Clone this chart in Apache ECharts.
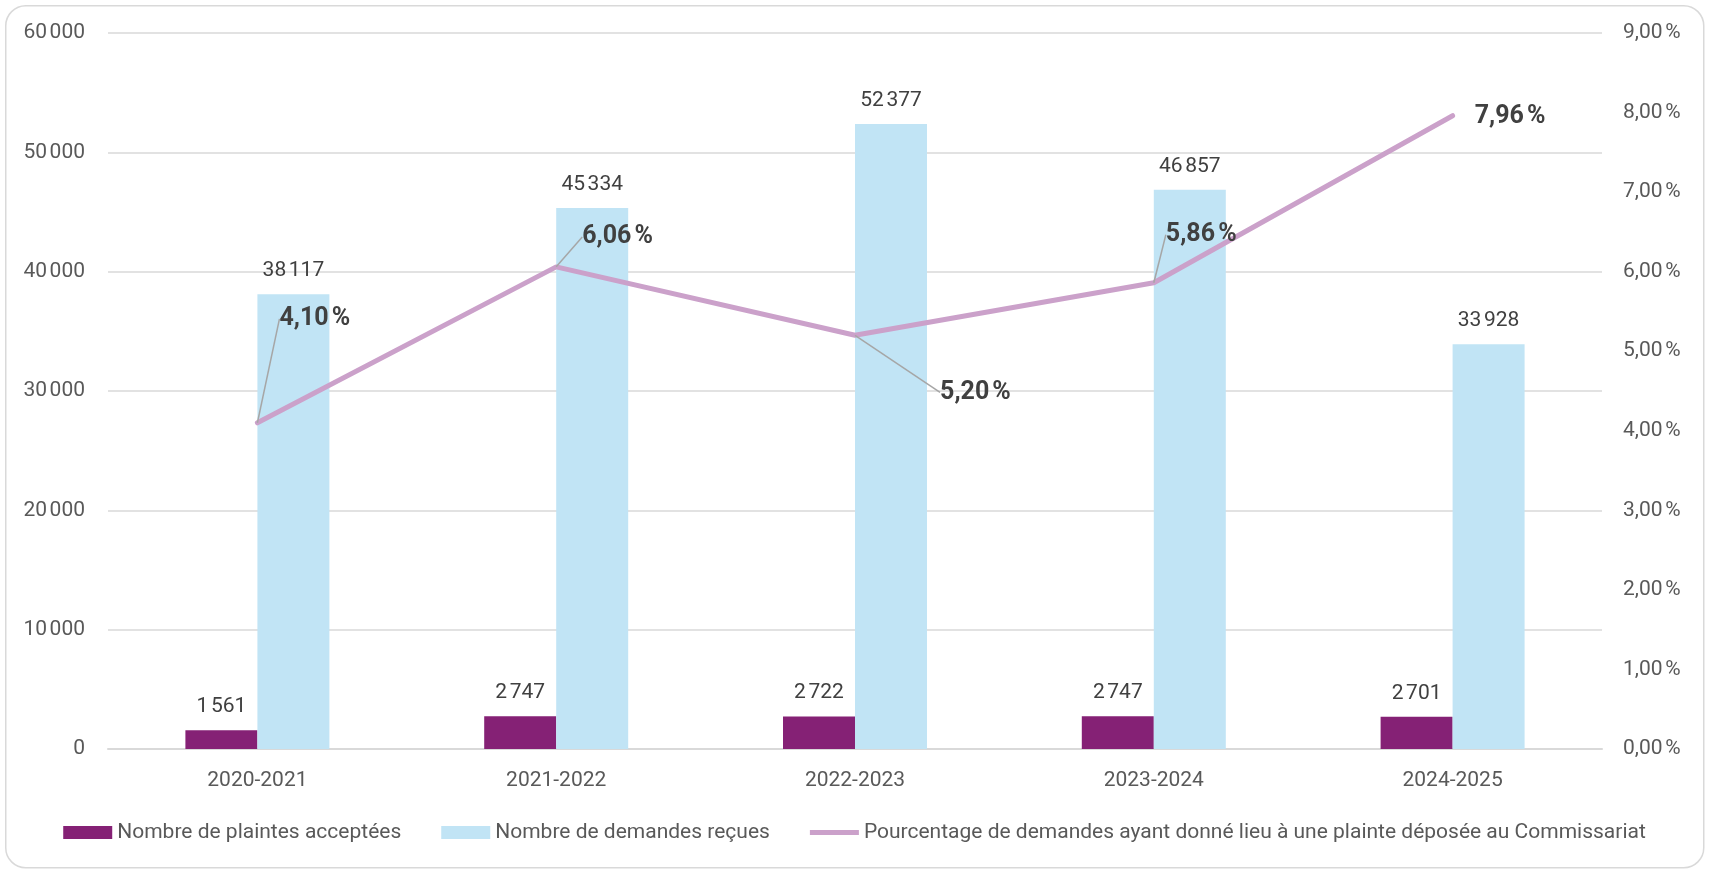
<!DOCTYPE html>
<html>
<head>
<meta charset="utf-8">
<script src="https://cdn.jsdelivr.net/npm/echarts@6/dist/echarts.min.js"></script>
<style>
html,body{margin:0;padding:0;background:#fff;}
#chart{width:1709px;height:874px;}
</style>
</head>
<body>
<div id="chart"></div>
<script>
const categories = ['2020-2021', '2021-2022', '2022-2023', '2023-2024', '2024-2025'];
const plaintesAcceptees = [1561, 2747, 2722, 2747, 2701];
const demandesRecues = [38117, 45334, 52377, 46857, 33928];
const pourcentage = [4.10, 6.06, 5.20, 5.86, 7.96];
const seriesNames = [
  'Nombre de plaintes acceptées',
  'Nombre de demandes reçues',
  'Pourcentage de demandes ayant donné lieu à une plainte déposée au Commissariat'
];
// label offsets (pixels) for the percentage labels, relative to their point
const pctLabelOffsets = [[22, -104], [26, -30], [85, 57], [12, -48], [22, 1]];
const pctLeaderShown = [true, true, true, true, false];

const FONT = 'Roboto, "Liberation Sans", sans-serif';
const FS = 21;
const NBSP = '\u202f';
function fmtInt(v) {
  return String(Math.round(v)).replace(/\B(?=(\d{3})+(?!\d))/g, NBSP);
}
function fmtPct(v) {
  return v.toFixed(2).replace('.', ',') + NBSP + '%';
}
const LINE_COLOR = '#CBA1CA';

const chart = echarts.init(document.getElementById('chart'), null, {renderer: 'canvas'});
chart.setOption({
  backgroundColor: '#ffffff',
  animation: false,
  textStyle: {fontFamily: FONT},
  graphic: [{
    type: 'rect', left: 5, top: 5, z: -10,
    shape: {width: 1698, height: 862, r: 20},
    style: {fill: '#ffffff', stroke: '#d9d9d9', lineWidth: 1.5}
  }],
  grid: {left: 108, right: 107, top: 33, bottom: 125, containLabel: false},
  legend: {
    bottom: 26,
    left: 'center',
    itemGap: 40,
    itemWidth: 49,
    itemHeight: 13,
    textStyle: {fontSize: FS, color: '#595959', fontFamily: FONT},
    data: [
      {name: seriesNames[0], icon: 'rect'},
      {name: seriesNames[1], icon: 'rect'},
      {name: seriesNames[2], icon: 'path://M0,0 L100,0 L100,10 L0,10 Z',
        itemStyle: {color: LINE_COLOR, opacity: 1}}
    ]
  },
  xAxis: {
    type: 'category',
    data: categories,
    axisLine: {lineStyle: {color: '#d9d9d9', width: 2}},
    axisTick: {show: false},
    axisLabel: {fontSize: FS, color: '#595959', margin: 21, fontFamily: FONT}
  },
  yAxis: [{
    type: 'value', min: 0, max: 60000, interval: 10000,
    axisLine: {show: false}, axisTick: {show: false},
    splitLine: {lineStyle: {color: '#d9d9d9', width: 1.5}},
    axisLabel: {fontSize: FS, color: '#595959', margin: 23, fontFamily: FONT, formatter: fmtInt}
  }, {
    type: 'value', min: 0, max: 9, interval: 1,
    axisLine: {show: false}, axisTick: {show: false},
    splitLine: {show: false},
    axisLabel: {fontSize: FS, color: '#595959', margin: 21, fontFamily: FONT, formatter: fmtPct}
  }],
  series: [{
    name: seriesNames[0],
    type: 'bar',
    data: plaintesAcceptees,
    barWidth: 72,
    barGap: '0%',
    itemStyle: {color: '#852175'},
    label: {show: true, position: 'top', distance: 13, fontSize: FS, color: '#404040', fontFamily: FONT,
      formatter: p => fmtInt(p.value)}
  }, {
    name: seriesNames[1],
    type: 'bar',
    data: demandesRecues,
    barWidth: 72,
    barGap: '0%',
    itemStyle: {color: '#C1E4F5'},
    label: {show: true, position: 'top', distance: 13, fontSize: FS, color: '#404040', fontFamily: FONT,
      formatter: p => fmtInt(p.value)}
  }, {
    name: seriesNames[2],
    type: 'line',
    yAxisIndex: 1,
    data: pourcentage.map((v, i) => ({value: v, labelLine: {show: pctLeaderShown[i]}})),
    z: 5,
    symbol: 'circle',
    symbolSize: 0.1,
    showSymbol: true,
    itemStyle: {color: LINE_COLOR},
    lineStyle: {color: LINE_COLOR, width: 5, cap: 'round', join: 'round'},
    label: {show: true, position: 'right', distance: 0, fontSize: 25, fontWeight: 'bold', color: '#404040',
      fontFamily: FONT, formatter: p => fmtPct(p.value)},
    labelLine: {show: true, lineStyle: {color: '#a6a6a6', width: 1.5}},
    labelLayout: function (params) {
      const o = pctLabelOffsets[params.dataIndex];
      return {dx: o[0], dy: o[1]};
    }
  }]
});
</script>
</body>
</html>
